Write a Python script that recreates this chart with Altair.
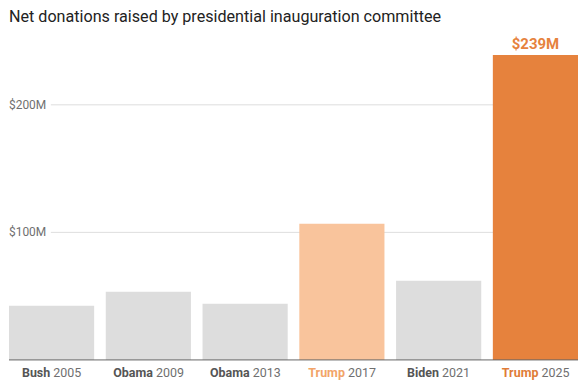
import altair as alt
import pandas as pd

# ---- data ----
title_text = "Net donations raised by presidential inauguration committee"
names = ["Bush", "Obama", "Obama", "Trump", "Biden", "Trump"]
years = ["2005", "2009", "2013", "2017", "2021", "2025"]
values = [42.5, 53.5, 44.0, 106.8, 62.0, 239.0]   # $ millions
groups = ["other", "other", "other", "trump2017", "other", "trump2025"]
tick_values = [100, 200]
tick_labels = ["$100M", "$200M"]

# ---- styles ----
group_domain = ["other", "trump2017", "trump2025"]
bar_colors = ["#dddddd", "#f9c49c", "#e6823d"]
name_colors = {"other": "#555555", "trump2017": "#f2a468", "trump2025": "#e07c37"}
year_color = "#6f6f6f"
FONT = "Roboto"
LABEL_SIZE = 12.5

cats = [f"{n} {y}" for n, y in zip(names, years)]
df = pd.DataFrame({"cat": cats, "name": names, "year": years,
                   "value": values, "group": groups})
ticks = pd.DataFrame({"value": tick_values, "label": tick_labels})

W = 571
H = 376
PX_PER_M = 1.28
ZERO_Y = 352.5
yscale = alt.Scale(domain=[-(H - ZERO_Y) / PX_PER_M, ZERO_Y / PX_PER_M],
                   nice=False, zero=False)
xscale = alt.Scale(domain=cats, paddingInner=0.12, paddingOuter=0.0)

X = alt.X("cat:N", scale=xscale, axis=None, sort=cats)

# approximate glyph widths (em) for centring two-part labels
BOLD_W = {"B": .63, "u": .56, "s": .53, "h": .56, "O": .69, "b": .56, "a": .55,
          "m": .88, "T": .62, "r": .36, "p": .56, "i": .26, "d": .56, "e": .54,
          "n": .56}


def text_w(s, bold):
    if bold:
        return sum(BOLD_W.get(c, .56) for c in s) * LABEL_SIZE
    return sum(.562 for c in s) * LABEL_SIZE


GAP = 0.25 * LABEL_SIZE

base = alt.Chart(df)

bars = base.mark_bar().encode(
    x=X,
    y=alt.Y("value:Q", scale=yscale, axis=None),
    color=alt.Color("group:N", scale=alt.Scale(domain=group_domain, range=bar_colors),
                    legend=None),
)

grid = alt.Chart(ticks).mark_rule(color="#dedede", strokeWidth=1).encode(
    y=alt.Y("value:Q", scale=yscale, axis=None),
    x=alt.value(42), x2=alt.value(W),
)

tick_text = alt.Chart(ticks).mark_text(
    align="left", baseline="middle", font=FONT, fontSize=12, color="#707070"
).encode(
    y=alt.Y("value:Q", scale=yscale, axis=None),
    x=alt.value(0),
    text="label:N",
)

baseline = alt.Chart(pd.DataFrame({"value": [0]})).mark_rule(
    color="#666666", strokeWidth=1
).encode(
    y=alt.Y("value:Q", scale=yscale, axis=None),
    x=alt.value(0), x2=alt.value(W),
)

title = alt.Chart(pd.DataFrame({"t": [title_text]})).mark_text(
    align="left", baseline="alphabetic", font=FONT, fontSize=16.2, color="#222222"
).encode(x=alt.value(0), y=alt.value(13), text="t:N")

value_label = base.transform_filter(alt.datum.cat == cats[-1]).transform_calculate(
    lab="'$' + format(datum.value, '.0f') + 'M'"
).mark_text(
    align="center", baseline="alphabetic", dy=-6.5, font=FONT, fontSize=15,
    fontWeight="bold", color=bar_colors[2]
).encode(x=X, y=alt.Y("value:Q", scale=yscale, axis=None), text="lab:N")

layers = [grid, tick_text, bars, baseline, value_label, title]

for c, n, yr, g in zip(cats, names, years, groups):
    nw = text_w(n, True)
    yw = text_w(yr, False)
    off = (nw - GAP - yw) / 2
    sub = base.transform_filter(alt.datum.cat == c)
    layers.append(sub.mark_text(
        align="right", baseline="alphabetic", dx=off, font=FONT,
        fontSize=LABEL_SIZE, fontWeight="bold", color=name_colors[g]
    ).encode(x=X, y=alt.value(370), text="name:N"))
    layers.append(sub.mark_text(
        align="left", baseline="alphabetic", dx=off + GAP, font=FONT,
        fontSize=LABEL_SIZE, color=year_color
    ).encode(x=X, y=alt.value(370), text="year:N"))

chart = alt.layer(*layers).properties(
    width=W, height=H, padding=0
).configure_view(stroke=None)

chart.save("out.html", embed_options={"renderer": "svg", "actions": False})
